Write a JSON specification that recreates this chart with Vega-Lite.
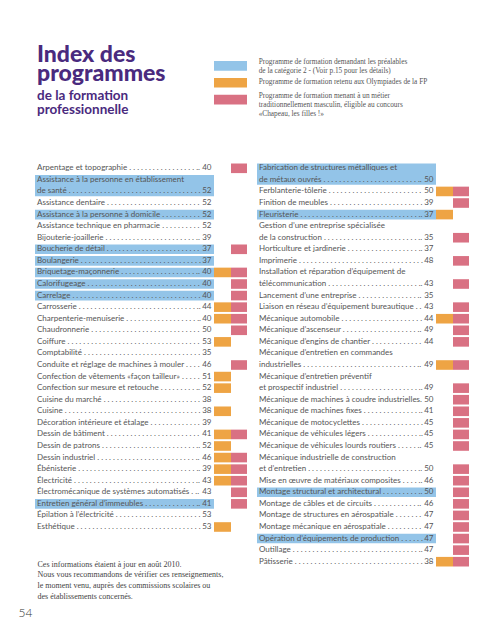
{
  "$schema": "https://vega.github.io/schema/vega-lite/v6.json",
  "width": 491,
  "height": 640,
  "autosize": {"type": "none"},
  "padding": 0,
  "background": "white",
  "config": {
    "view": {"stroke": null},
    "axis": {"grid": false, "domain": false, "ticks": false, "labels": false},
    "title": {"anchor": "start", "frame": "group", "orient": "top", "offset": -116, "dx": 37, "font": "Lato", "fontSize": 23, "fontWeight": 900, "color": "#4a2a7e", "lineHeight": 18.8, "subtitleFont": "Lato", "subtitleFontSize": 13.5, "subtitleFontWeight": 700, "subtitleColor": "#4a2a7e", "subtitleLineHeight": 13.5, "subtitlePadding": 3.5}
  },
  "title": {"text": ["Index des", "programmes"], "subtitle": ["de la formation", "professionnelle"]},
  "data": {
    "values": [
      {"c": 0, "a": 1, "b": 1, "name": "Arpentage et topographie", "p": 40, "hl": 0, "o": 0, "k": 1},
      {"c": 0, "a": 2, "b": 3, "name": "Assistance à la personne en établissement\nde santé", "p": 52, "hl": 1, "o": 0, "k": 0},
      {"c": 0, "a": 4, "b": 4, "name": "Assistance dentaire", "p": 52, "hl": 0, "o": 0, "k": 0},
      {"c": 0, "a": 5, "b": 5, "name": "Assistance à la personne à domicile", "p": 52, "hl": 1, "o": 0, "k": 0},
      {"c": 0, "a": 6, "b": 6, "name": "Assistance technique en pharmacie", "p": 52, "hl": 0, "o": 0, "k": 0},
      {"c": 0, "a": 7, "b": 7, "name": "Bijouterie-joaillerie", "p": 39, "hl": 0, "o": 0, "k": 0},
      {"c": 0, "a": 8, "b": 8, "name": "Boucherie de détail", "p": 37, "hl": 1, "o": 0, "k": 1},
      {"c": 0, "a": 9, "b": 9, "name": "Boulangerie", "p": 37, "hl": 1, "o": 0, "k": 0},
      {"c": 0, "a": 10, "b": 10, "name": "Briquetage-maçonnerie", "p": 40, "hl": 1, "o": 1, "k": 1},
      {"c": 0, "a": 11, "b": 11, "name": "Calorifugeage", "p": 40, "hl": 1, "o": 0, "k": 1},
      {"c": 0, "a": 12, "b": 12, "name": "Carrelage", "p": 40, "hl": 1, "o": 0, "k": 1},
      {"c": 0, "a": 13, "b": 13, "name": "Carrosserie", "p": 44, "hl": 0, "o": 1, "k": 1},
      {"c": 0, "a": 14, "b": 14, "name": "Charpenterie-menuiserie", "p": 40, "hl": 0, "o": 1, "k": 1},
      {"c": 0, "a": 15, "b": 15, "name": "Chaudronnerie", "p": 50, "hl": 0, "o": 0, "k": 1},
      {"c": 0, "a": 16, "b": 16, "name": "Coiffure", "p": 53, "hl": 0, "o": 1, "k": 0},
      {"c": 0, "a": 17, "b": 17, "name": "Comptabilité", "p": 35, "hl": 0, "o": 0, "k": 0},
      {"c": 0, "a": 18, "b": 18, "name": "Conduite et réglage de machines à mouler", "p": 46, "hl": 0, "o": 0, "k": 1},
      {"c": 0, "a": 19, "b": 19, "name": "Confection de vêtements «façon tailleur»", "p": 51, "hl": 0, "o": 1, "k": 0},
      {"c": 0, "a": 20, "b": 20, "name": "Confection sur mesure et retouche", "p": 52, "hl": 0, "o": 1, "k": 0},
      {"c": 0, "a": 21, "b": 21, "name": "Cuisine du marché", "p": 38, "hl": 0, "o": 0, "k": 0},
      {"c": 0, "a": 22, "b": 22, "name": "Cuisine", "p": 38, "hl": 0, "o": 1, "k": 0},
      {"c": 0, "a": 23, "b": 23, "name": "Décoration intérieure et étalage", "p": 39, "hl": 0, "o": 0, "k": 0},
      {"c": 0, "a": 24, "b": 24, "name": "Dessin de bâtiment", "p": 41, "hl": 0, "o": 1, "k": 1},
      {"c": 0, "a": 25, "b": 25, "name": "Dessin de patrons", "p": 52, "hl": 0, "o": 1, "k": 0},
      {"c": 0, "a": 26, "b": 26, "name": "Dessin industriel", "p": 46, "hl": 0, "o": 1, "k": 1},
      {"c": 0, "a": 27, "b": 27, "name": "Ébénisterie", "p": 39, "hl": 0, "o": 1, "k": 1},
      {"c": 0, "a": 28, "b": 28, "name": "Électricité", "p": 43, "hl": 0, "o": 1, "k": 1},
      {"c": 0, "a": 29, "b": 29, "name": "Électromécanique de systèmes automatisés", "p": 43, "hl": 0, "o": 0, "k": 1},
      {"c": 0, "a": 30, "b": 30, "name": "Entretien général d’immeubles", "p": 41, "hl": 1, "o": 0, "k": 1},
      {"c": 0, "a": 31, "b": 31, "name": "Épilation à l’électricité", "p": 53, "hl": 0, "o": 0, "k": 0},
      {"c": 0, "a": 32, "b": 32, "name": "Esthétique", "p": 53, "hl": 0, "o": 1, "k": 0},
      {"c": 1, "a": 1, "b": 2, "name": "Fabrication de structures métalliques et\nde métaux ouvrés", "p": 50, "hl": 1, "o": 0, "k": 0},
      {"c": 1, "a": 3, "b": 3, "name": "Ferblanterie-tôlerie", "p": 50, "hl": 0, "o": 1, "k": 1},
      {"c": 1, "a": 4, "b": 4, "name": "Finition de meubles", "p": 39, "hl": 0, "o": 0, "k": 1},
      {"c": 1, "a": 5, "b": 5, "name": "Fleuristerie", "p": 37, "hl": 1, "o": 1, "k": 0},
      {"c": 1, "a": 6, "b": 7, "name": "Gestion d’une entreprise spécialisée\nde la construction", "p": 35, "hl": 0, "o": 0, "k": 1},
      {"c": 1, "a": 8, "b": 8, "name": "Horticulture et jardinerie", "p": 37, "hl": 0, "o": 0, "k": 0},
      {"c": 1, "a": 9, "b": 9, "name": "Imprimerie", "p": 48, "hl": 0, "o": 0, "k": 1},
      {"c": 1, "a": 10, "b": 11, "name": "Installation et réparation d’équipement de\ntélécommunication", "p": 43, "hl": 0, "o": 0, "k": 1},
      {"c": 1, "a": 12, "b": 12, "name": "Lancement d’une entreprise", "p": 35, "hl": 0, "o": 0, "k": 0},
      {"c": 1, "a": 13, "b": 13, "name": "Liaison en réseau d’équipement bureautique", "p": 43, "hl": 0, "o": 0, "k": 1},
      {"c": 1, "a": 14, "b": 14, "name": "Mécanique automobile", "p": 44, "hl": 0, "o": 1, "k": 1},
      {"c": 1, "a": 15, "b": 15, "name": "Mécanique d’ascenseur", "p": 49, "hl": 0, "o": 0, "k": 1},
      {"c": 1, "a": 16, "b": 16, "name": "Mécanique d’engins de chantier", "p": 44, "hl": 0, "o": 0, "k": 1},
      {"c": 1, "a": 17, "b": 18, "name": "Mécanique d’entretien en commandes\nindustrielles", "p": 49, "hl": 0, "o": 1, "k": 1},
      {"c": 1, "a": 19, "b": 20, "name": "Mécanique d’entretien préventif\net prospectif industriel", "p": 49, "hl": 0, "o": 0, "k": 1},
      {"c": 1, "a": 21, "b": 21, "name": "Mécanique de machines à coudre industrielles", "p": 50, "hl": 0, "o": 0, "k": 1},
      {"c": 1, "a": 22, "b": 22, "name": "Mécanique de machines fixes", "p": 41, "hl": 0, "o": 0, "k": 1},
      {"c": 1, "a": 23, "b": 23, "name": "Mécanique de motocyclettes", "p": 45, "hl": 0, "o": 0, "k": 1},
      {"c": 1, "a": 24, "b": 24, "name": "Mécanique de véhicules légers", "p": 45, "hl": 0, "o": 0, "k": 1},
      {"c": 1, "a": 25, "b": 25, "name": "Mécanique de véhicules lourds routiers", "p": 45, "hl": 0, "o": 0, "k": 1},
      {"c": 1, "a": 26, "b": 27, "name": "Mécanique industrielle de construction\net d’entretien", "p": 50, "hl": 0, "o": 0, "k": 1},
      {"c": 1, "a": 28, "b": 28, "name": "Mise en œuvre de matériaux composites", "p": 46, "hl": 0, "o": 0, "k": 1},
      {"c": 1, "a": 29, "b": 29, "name": "Montage structural et architectural", "p": 50, "hl": 1, "o": 0, "k": 1},
      {"c": 1, "a": 30, "b": 30, "name": "Montage de câbles et de circuits", "p": 46, "hl": 0, "o": 0, "k": 1},
      {"c": 1, "a": 31, "b": 31, "name": "Montage de structures en aérospatiale", "p": 47, "hl": 0, "o": 0, "k": 1},
      {"c": 1, "a": 32, "b": 32, "name": "Montage mécanique en aérospatiale", "p": 47, "hl": 0, "o": 0, "k": 1},
      {"c": 1, "a": 33, "b": 33, "name": "Opération d’équipements de production", "p": 47, "hl": 1, "o": 0, "k": 1},
      {"c": 1, "a": 34, "b": 34, "name": "Outillage", "p": 47, "hl": 0, "o": 0, "k": 1},
      {"c": 1, "a": 35, "b": 35, "name": "Pâtisserie", "p": 38, "hl": 0, "o": 1, "k": 1}
    ]
  },
  "layer": [
    {
      "layer": [
        {
          "transform": [{"filter": "datum.hl == 1"}],
          "mark": {"type": "rect", "x2Offset": 179, "yOffset": -4.8, "y2Offset": 4.8},
          "encoding": {
            "x": {"field": "c", "type": "quantitative", "scale": {"domain": [0, 1], "range": [35, 257], "zero": false, "nice": false}, "title": ["Ces informations étaient à jour en août 2010.", "Nous vous recommandons de vérifier ces renseignements,", "le moment venu, auprès des commissions scolaires ou", "des établissements concernés."], "axis": {"titleX": 37, "titleY": -80, "titleAnchor": "start", "titleAlign": "left", "titleBaseline": "top", "titleFont": "Liberation Serif", "titleFontSize": 8, "titleFontWeight": "normal", "titleColor": "#444", "titleLineHeight": 10.8}},
            "x2": {"field": "c"},
            "y": {"field": "a", "type": "quantitative", "scale": {"domain": [1, 35], "range": [168.3, 561.7], "zero": false, "nice": false}, "title": "54", "axis": {"titleX": 18, "titleY": 612, "titleAngle": 0, "titleAlign": "left", "titleBaseline": "middle", "titleFont": "Lato", "titleFontSize": 12, "titleFontWeight": 300, "titleColor": "#333"}},
            "y2": {"field": "b"},
            "color": {"datum": "b", "scale": {"domain": ["b", "o", "k"], "range": ["#93c4e8", "#eea444", "#d97183"]}, "legend": null}
          }
        },
        {
          "transform": [{"filter": "datum.o == 1"}],
          "mark": {"type": "rect", "xOffset": 179, "x2Offset": 196, "yOffset": -4.8, "y2Offset": 4.8},
          "encoding": {
            "x": {"field": "c", "type": "quantitative"},
            "x2": {"field": "c"},
            "y": {"field": "b", "type": "quantitative", "title": "54"},
            "y2": {"field": "b"},
            "color": {"datum": "o"}
          }
        },
        {
          "transform": [{"filter": "datum.k == 1"}],
          "mark": {"type": "rect", "xOffset": 196, "x2Offset": 212, "yOffset": -4.8, "y2Offset": 4.8},
          "encoding": {
            "x": {"field": "c", "type": "quantitative"},
            "x2": {"field": "c"},
            "y": {"field": "b", "type": "quantitative", "title": "54"},
            "y2": {"field": "b"},
            "color": {"datum": "k"}
          }
        },
        {
          "transform": [{"calculate": "datum.name + ' ' + '. . . . . . . . . . . . . . . . . . . . . . . . . . . . . . . . . . . . . . . . . . . . . . . . . . . . . . . . . . . .'", "as": "label"}],
          "mark": {"type": "text", "align": "left", "baseline": "middle", "dx": 2, "font": "Lato", "fontSize": 8, "fill": "#555", "limit": 164, "ellipsis": ".", "lineBreak": "\n", "lineHeight": 11.57},
          "encoding": {
            "x": {"field": "c", "type": "quantitative"},
            "y": {"field": "a", "type": "quantitative", "title": "54"},
            "text": {"field": "label"}
          }
        },
        {
          "mark": {"type": "text", "align": "right", "baseline": "middle", "dx": 176.5, "font": "Lato", "fontSize": 8, "fill": "#555"},
          "encoding": {
            "x": {"field": "c", "type": "quantitative"},
            "y": {"field": "b", "type": "quantitative", "title": "54"},
            "text": {"field": "p"}
          }
        }
      ]
    },
    {
      "data": {
        "values": [
          {"key": "b", "item": 1, "txt": "Programme de formation demandant les préalables\nde la catégorie 2 - (Voir p.15 pour les détails)"},
          {"key": "o", "item": 2, "txt": "Programme de formation retenu aux Olympiades de la FP"},
          {"key": "k", "item": 3, "txt": "Programme de formation menant à un métier\ntraditionnellement masculin, éligible au concours\n«Chapeau, les filles !»"}
        ]
      },
      "layer": [
        {
          "mark": {"type": "rect", "xOffset": 179, "x2Offset": 212, "yOffset": -4.85, "y2Offset": 4.85},
          "encoding": {
            "x": {"datum": 0, "type": "quantitative", "title": ["Ces informations étaient à jour en août 2010.", "Nous vous recommandons de vérifier ces renseignements,", "le moment venu, auprès des commissions scolaires ou", "des établissements concernés."]},
            "x2": {"datum": 0},
            "y": {"field": "item", "type": "quantitative", "scale": {"domain": [1, 3], "range": [65.8, 99.7], "zero": false, "nice": false}, "axis": null},
            "y2": {"field": "item"},
            "color": {"field": "key", "type": "nominal", "legend": null}
          }
        },
        {
          "transform": [{"filter": "datum.key != 'o'"}],
          "mark": {"type": "text", "align": "left", "baseline": "middle", "dx": 1.7, "dy": -3.5, "font": "Liberation Serif", "fontSize": 7.3, "fill": "#555", "lineBreak": "\n", "lineHeight": 8.8},
          "encoding": {
            "x": {"datum": 1, "type": "quantitative", "title": ["Ces informations étaient à jour en août 2010.", "Nous vous recommandons de vérifier ces renseignements,", "le moment venu, auprès des commissions scolaires ou", "des établissements concernés."]},
            "y": {"field": "item", "type": "quantitative", "axis": null},
            "text": {"field": "txt"}
          }
        },
        {
          "transform": [{"filter": "datum.key == 'o'"}],
          "mark": {"type": "text", "align": "left", "baseline": "middle", "dx": 1.7, "dy": -0.5, "font": "Liberation Serif", "fontSize": 7.3, "fill": "#555"},
          "encoding": {
            "x": {"datum": 1, "type": "quantitative", "title": ["Ces informations étaient à jour en août 2010.", "Nous vous recommandons de vérifier ces renseignements,", "le moment venu, auprès des commissions scolaires ou", "des établissements concernés."]},
            "y": {"field": "item", "type": "quantitative", "axis": null},
            "text": {"field": "txt"}
          }
        }
      ]
    }
  ],
  "resolve": {"scale": {"y": "independent"}}
}
